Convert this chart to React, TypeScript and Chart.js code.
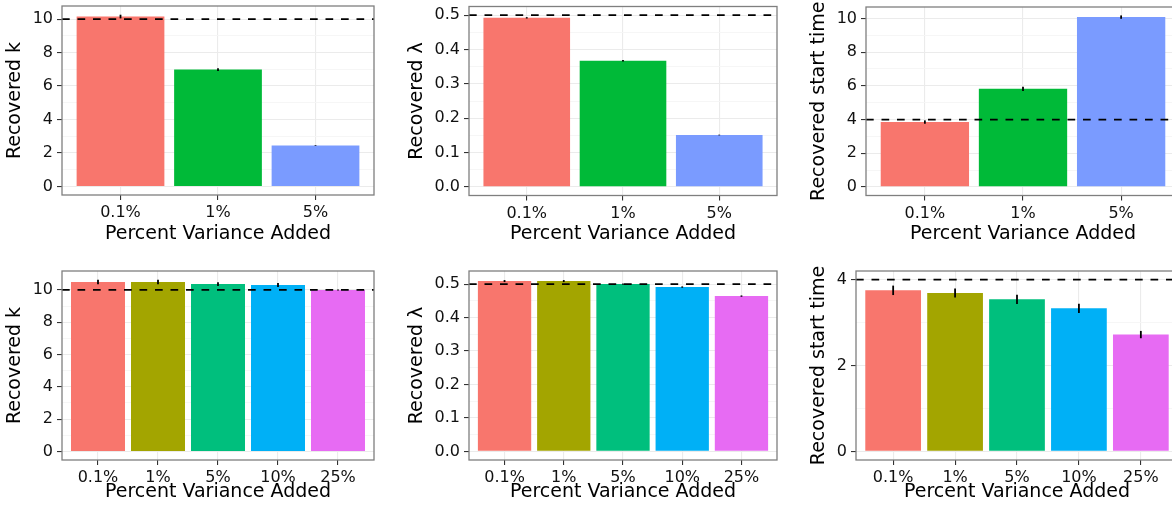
import React, { useEffect, useRef } from "react";
import { Chart, registerables } from "chart.js";

Chart.register(...registerables);

const FONT = '"DejaVu Sans", "Liberation Sans", Arial, sans-serif';

// ---------- data ----------
const catsTop = ["0.1%", "1%", "5%"];
const catsBottom = ["0.1%", "1%", "5%", "10%", "25%"];
const colorsTop = ["#F8766D", "#00BA38", "#7A9BFF"];
const colorsBottom = ["#F8766D", "#A3A500", "#00BF7D", "#00B0F6", "#E76BF3"];

const kTop = [10.15, 6.98, 2.45];
const kTopErr = [0.11, 0.08, 0.02];
const lamTop = [0.492, 0.367, 0.151];
const lamTopErr = [0.002, 0.002, 0.001];
const t0Top = [3.85, 5.82, 10.08];
const t0TopErr = [0.1, 0.12, 0.1];

const kBottom = [10.49, 10.49, 10.36, 10.3, 10.0];
const kBottomErr = [0.14, 0.14, 0.12, 0.12, 0.03];
const lamBottom = [0.509, 0.509, 0.5, 0.491, 0.464];
const lamBottomErr = [0.003, 0.003, 0.002, 0.002, 0.002];
const t0Bottom = [3.75, 3.69, 3.54, 3.33, 2.72];
const t0BottomErr = [0.11, 0.105, 0.11, 0.105, 0.085];

const trueK = 10;
const trueLam = 0.5;
const trueT0 = 4;

const kTicks = [0, 2, 4, 6, 8, 10];
const kTickLabels = ["0", "2", "4", "6", "8", "10"];
const kMinor = [1, 3, 5, 7, 9];
const lamTicks = [0, 0.1, 0.2, 0.3, 0.4, 0.5];
const lamTickLabels = ["0.0", "0.1", "0.2", "0.3", "0.4", "0.5"];
const lamMinor = [0.05, 0.15, 0.25, 0.35, 0.45];
const t0SmallTicks = [0, 2, 4];
const t0SmallTickLabels = ["0", "2", "4"];
const t0SmallMinor = [1, 3];

const xTitle = "Percent Variance Added";
const titleK = "Recovered k";
const titleLam = "Recovered λ";
const titleT0 = "Recovered start time";

// ---------- layout (pixels) ----------
const TICK_FS = 16;
const TITLE_FS = 19;

type Spec = {
  cats: string[];
  colors: string[];
  values: number[];
  errs: number[];
  ref: number;
  ticks: number[];
  tickLabels: string[];
  minor: number[];
  yTitle: string;
  yMin: number;
  yMax: number;
  box: { left: number; top: number; width: number; height: number };
  area: { left: number; top: number; right: number; bottom: number };
  yTitleGlyphLeft: number;
  xTitleBaseline: number;
};

const specs: Spec[] = [
  {
    cats: catsTop, colors: colorsTop, values: kTop, errs: kTopErr, ref: trueK,
    ticks: kTicks, tickLabels: kTickLabels, minor: kMinor, yTitle: titleK,
    yMin: -0.51, yMax: 10.78,
    box: { left: 0, top: 0, width: 390, height: 250 },
    area: { left: 62, top: 6, right: 374, bottom: 195 },
    yTitleGlyphLeft: 7.3, xTitleBaseline: 241,
  },
  {
    cats: catsTop, colors: colorsTop, values: lamTop, errs: lamTopErr, ref: trueLam,
    ticks: lamTicks, tickLabels: lamTickLabels, minor: lamMinor, yTitle: titleLam,
    yMin: -0.025, yMax: 0.525,
    box: { left: 390, top: 0, width: 390, height: 250 },
    area: { left: 79, top: 6.5, right: 387, bottom: 195.5 },
    yTitleGlyphLeft: 20, xTitleBaseline: 241,
  },
  {
    cats: catsTop, colors: colorsTop, values: t0Top, errs: t0TopErr, ref: trueT0,
    ticks: kTicks, tickLabels: kTickLabels, minor: kMinor, yTitle: titleT0,
    yMin: -0.51, yMax: 10.68,
    box: { left: 780, top: 0, width: 410, height: 250 },
    area: { left: 86, top: 7, right: 400, bottom: 195.5 },
    yTitleGlyphLeft: 31.7, xTitleBaseline: 241,
  },
  {
    cats: catsBottom, colors: colorsBottom, values: kBottom, errs: kBottomErr, ref: trueK,
    ticks: kTicks, tickLabels: kTickLabels, minor: kMinor, yTitle: titleK,
    yMin: -0.53, yMax: 11.17,
    box: { left: 0, top: 255, width: 390, height: 255 },
    area: { left: 62, top: 16, right: 374, bottom: 205 },
    yTitleGlyphLeft: 7.3, xTitleBaseline: 243.5,
  },
  {
    cats: catsBottom, colors: colorsBottom, values: lamBottom, errs: lamBottomErr, ref: trueLam,
    ticks: lamTicks, tickLabels: lamTickLabels, minor: lamMinor, yTitle: titleLam,
    yMin: -0.0257, yMax: 0.539,
    box: { left: 390, top: 255, width: 390, height: 255 },
    area: { left: 79, top: 16, right: 387, bottom: 205 },
    yTitleGlyphLeft: 20, xTitleBaseline: 243.5,
  },
  {
    cats: catsBottom, colors: colorsBottom, values: t0Bottom, errs: t0BottomErr, ref: trueT0,
    ticks: t0SmallTicks, tickLabels: t0SmallTickLabels, minor: t0SmallMinor, yTitle: titleT0,
    yMin: -0.2, yMax: 4.2,
    box: { left: 780, top: 255, width: 410, height: 255 },
    area: { left: 76, top: 16, right: 398, bottom: 205 },
    yTitleGlyphLeft: 31.7, xTitleBaseline: 243.5,
  },
];

const near = (a: number, b: number) => Math.abs(a - b) < 1e-9;

function makeConfig(s: Spec): any {
  const n = s.cats.length;
  const isMajor = (v: number) => s.ticks.some((t) => near(t, v));
  const allTicks = [...s.ticks, ...s.minor].sort((a, b) => a - b);
  const yAxisW = s.area.left;
  const xAxisH = s.box.height - s.area.bottom;
  const yTitlePad = s.yTitleGlyphLeft + 0.383 * TITLE_FS - TITLE_FS / 2;
  const xTitlePad = s.box.height - TITLE_FS / 2 - s.xTitleBaseline + 0.346 * TITLE_FS;

  const decor = {
    id: "decor",
    afterDatasetsDraw(chart: any) {
      const { ctx, chartArea: a } = chart;
      const ys = chart.scales.y;
      const meta = chart.getDatasetMeta(0);
      ctx.save();
      ctx.strokeStyle = "#000";
      ctx.lineWidth = 1.8;
      meta.data.forEach((bar: any, i: number) => {
        const v = s.values[i];
        const e = s.errs[i];
        ctx.beginPath();
        ctx.moveTo(bar.x, ys.getPixelForValue(v - e));
        ctx.lineTo(bar.x, ys.getPixelForValue(v + e));
        ctx.stroke();
      });
      const yRef = ys.getPixelForValue(s.ref);
      ctx.setLineDash([7.7, 7.8]);
      ctx.lineWidth = 1.8;
      ctx.beginPath();
      ctx.moveTo(a.left, yRef);
      ctx.lineTo(a.right, yRef);
      ctx.stroke();
      ctx.setLineDash([]);
      ctx.strokeStyle = "#7F7F7F";
      ctx.lineWidth = 1.3;
      ctx.strokeRect(a.left, a.top, a.right - a.left, a.bottom - a.top);
      ctx.restore();
    },
  };

  return {
    type: "bar",
    data: {
      datasets: [
        {
          data: s.values.map((v, i) => ({ x: i, y: v })),
          backgroundColor: s.colors,
          borderWidth: 0,
          categoryPercentage: 0.9,
          barPercentage: 1,
        },
      ],
    },
    plugins: [decor],
    options: {
      animation: false,
      responsive: false,
      devicePixelRatio: 1,
      layout: {
        padding: {
          left: 0,
          top: s.area.top,
          right: s.box.width - s.area.right,
          bottom: 0,
        },
      },
      plugins: { legend: { display: false }, tooltip: { enabled: false } },
      scales: {
        x: {
          type: "linear",
          min: -0.6,
          max: n - 0.4,
          offset: false,
          afterBuildTicks: (sc: any) => {
            sc.ticks = s.cats.map((_, i) => ({ value: i }));
          },
          afterFit: (sc: any) => {
            sc.height = xAxisH;
            sc.paddingLeft = 0;
            sc.paddingRight = 0;
          },
          grid: {
            offset: false,
            color: "#EBEBEB",
            lineWidth: 1.1,
            tickColor: "#333",
            tickLength: 5,
            tickWidth: 1.1,
          },
          border: { display: false },
          ticks: {
            autoSkip: false,
            maxRotation: 0,
            minRotation: 0,
            padding: 5,
            color: "#111",
            font: { family: FONT, size: TICK_FS, lineHeight: 1 },
            callback: (v: number) => s.cats[Math.round(v)] ?? "",
          },
          title: {
            display: true,
            text: xTitle,
            color: "#000",
            font: { family: FONT, size: TITLE_FS, lineHeight: 1 },
            padding: { top: 0, bottom: xTitlePad },
          },
        },
        y: {
          type: "linear",
          min: s.yMin,
          max: s.yMax,
          afterBuildTicks: (sc: any) => {
            sc.ticks = allTicks.map((v) => ({ value: v }));
          },
          afterFit: (sc: any) => {
            sc.width = yAxisW;
            sc.paddingTop = 0;
            sc.paddingBottom = 0;
          },
          grid: {
            color: (c: any) => (c.tick && isMajor(c.tick.value) ? "#EBEBEB" : "#F5F5F5"),
            lineWidth: (c: any) => (c.tick && isMajor(c.tick.value) ? 1.1 : 0.9),
            tickColor: (c: any) => (c.tick && isMajor(c.tick.value) ? "#333" : "rgba(0,0,0,0)"),
            tickLength: 5,
            tickWidth: 1.1,
          },
          border: { display: false },
          ticks: {
            autoSkip: false,
            padding: 4,
            color: "#111",
            font: { family: FONT, size: TICK_FS, lineHeight: 1 },
            callback: (v: number) => {
              const idx = s.ticks.findIndex((t) => near(t, v));
              return idx >= 0 ? s.tickLabels[idx] : "";
            },
          },
          title: {
            display: true,
            text: s.yTitle,
            color: "#000",
            font: { family: FONT, size: TITLE_FS, lineHeight: 1 },
            padding: { top: yTitlePad, bottom: 0 },
          },
        },
      },
    },
  };
}

function Panel({ spec }: { spec: Spec }) {
  const ref = useRef<HTMLCanvasElement | null>(null);
  useEffect(() => {
    if (!ref.current) return;
    const chart = new Chart(ref.current, makeConfig(spec));
    return () => chart.destroy();
  }, [spec]);
  const { left, top, width, height } = spec.box;
  return (
    <div style={{ position: "absolute", left, top, width, height }}>
      <canvas
        ref={ref}
        width={width}
        height={height}
        style={{ display: "block", width, height }}
      />
    </div>
  );
}

export default function App() {
  return (
    <div
      style={{
        position: "fixed",
        left: 0,
        top: 0,
        width: 1172,
        height: 510,
        overflow: "hidden",
        background: "#fff",
      }}
    >
      {specs.map((s, i) => (
        <Panel key={i} spec={s} />
      ))}
    </div>
  );
}
